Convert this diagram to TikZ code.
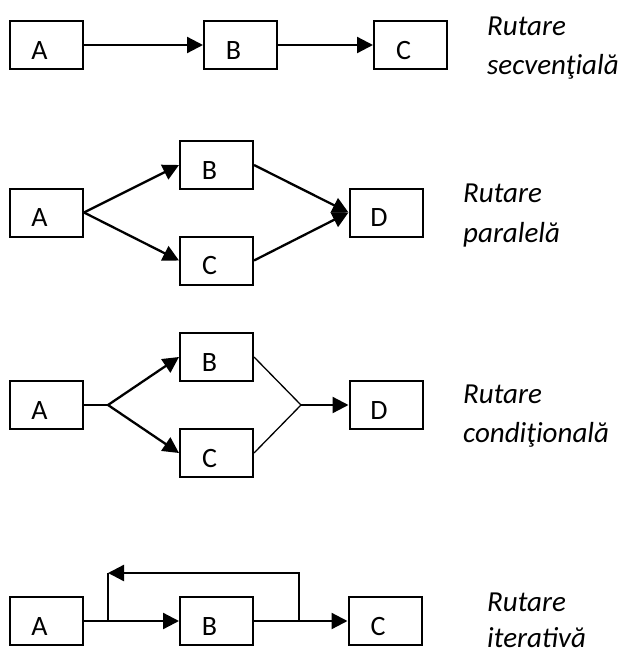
\documentclass[tikz,border=0pt]{standalone}
\usepackage{fontspec}
\setmainfont{Carlito}
\usetikzlibrary{arrows.meta}
\begin{document}
\begin{tikzpicture}[x=1pt,y=-1pt,
  box/.style={draw,line width=2pt,minimum width=73pt,minimum height=48pt,inner sep=0pt},
  lbl/.style={anchor=base,font=\fontsize{28}{28}\selectfont,inner sep=0pt},
  captxt/.style={anchor=base west,font=\fontsize{29}{29}\selectfont\itshape,inner sep=0pt},
  arr/.style={line width=2.3pt,-{Triangle[length=16pt,width=16pt]}},
  ln/.style={line width=2.3pt},
  thinln/.style={line width=1.3pt}]
\useasboundingbox (0,0) rectangle (621,653);
% ---------- Row 1: secventiala
\node[box] (a1) at (46.5,45) {};
\node[box] (b1) at (240.5,45) {};
\node[box] (c1) at (410.5,45) {};
\node[lbl] (la1) at ([xshift=-7pt,yshift=-14pt]a1.center) {A};
\node[lbl] (lb1) at ([xshift=-7pt,yshift=-14pt]b1.center) {B};
\node[lbl] (lc1) at ([xshift=-7pt,yshift=-14pt]c1.center) {C};
\draw[arr] (a1.east) -- (b1.west);
\draw[arr] (b1.east) -- (c1.west);
\node[captxt] (t1a) at (487,35) {Rutare};
\node[captxt] (t1b) at (487,74) {secvenţială};
% ---------- Row 2: paralela
\node[box] (a2) at (46.5,212.5) {};
\node[box] (b2) at (216.5,165) {};
\node[box] (c2) at (216.5,260.5) {};
\node[box] (d2) at (386,212.5) {};
\node[lbl] (la2) at ([xshift=-7pt,yshift=-14pt]a2.center) {A};
\node[lbl] (lb2) at ([xshift=-7pt,yshift=-14pt]b2.center) {B};
\node[lbl] (lc2) at ([xshift=-7pt,yshift=-14pt]c2.center) {C};
\node[lbl] (ld2) at ([xshift=-7pt,yshift=-14pt]d2.center) {D};
\draw[arr] (a2.east) -- (b2.west);
\draw[arr] (a2.east) -- (c2.west);
\draw[arr] (b2.east) -- (d2.west);
\draw[arr] (c2.east) -- (d2.west);
\node[captxt] (t2a) at (463,202) {Rutare};
\node[captxt] (t2b) at (463,242) {paralelă};
% ---------- Row 3: conditionala
\node[box] (a3) at (46.5,405) {};
\node[box] (b3) at (216.5,357) {};
\node[box] (c3) at (216.5,453) {};
\node[box] (d3) at (386,405) {};
\node[lbl] (la3) at ([xshift=-7pt,yshift=-14pt]a3.center) {A};
\node[lbl] (lb3) at ([xshift=-7pt,yshift=-14pt]b3.center) {B};
\node[lbl] (lc3) at ([xshift=-7pt,yshift=-14pt]c3.center) {C};
\node[lbl] (ld3) at ([xshift=-7pt,yshift=-14pt]d3.center) {D};
\coordinate (j1) at (108,405);
\coordinate (j2) at (301,405);
\draw[ln] (a3.east) -- (j1);
\draw[arr] (j1) -- (b3.west);
\draw[arr] (j1) -- (c3.west);
\draw[thinln] (b3.east) -- (j2) -- (c3.east);
\draw[arr] (j2) -- (d3.west);
\node[captxt] (t3a) at (463,403) {Rutare};
\node[captxt] (t3b) at (463,442) {condiţională};
% ---------- Row 4: iterativa
\node[box] (a4) at (46.5,621) {};
\node[box] (b4) at (216.5,621) {};
\node[box] (c4) at (385,621) {};
\node[lbl] (la4) at ([xshift=-7pt,yshift=-14pt]a4.center) {A};
\node[lbl] (lb4) at ([xshift=-7pt,yshift=-14pt]b4.center) {B};
\node[lbl] (lc4) at ([xshift=-7pt,yshift=-14pt]c4.center) {C};
\draw[arr] (a4.east) -- (b4.west);
\draw[arr] (b4.east) -- (c4.west);
\coordinate (s4) at (108,621);
\coordinate (t4) at (108,573);
\coordinate (u4) at (299,573);
\coordinate (v4) at (299,621);
\draw[ln] (s4) -- (t4);
\draw[arr] (v4) -- (u4) -- (t4);
\node[captxt] (t4a) at (487,611) {Rutare};
\node[captxt] (t4b) at (487,647) {iterativă};
\end{tikzpicture}
\end{document}
